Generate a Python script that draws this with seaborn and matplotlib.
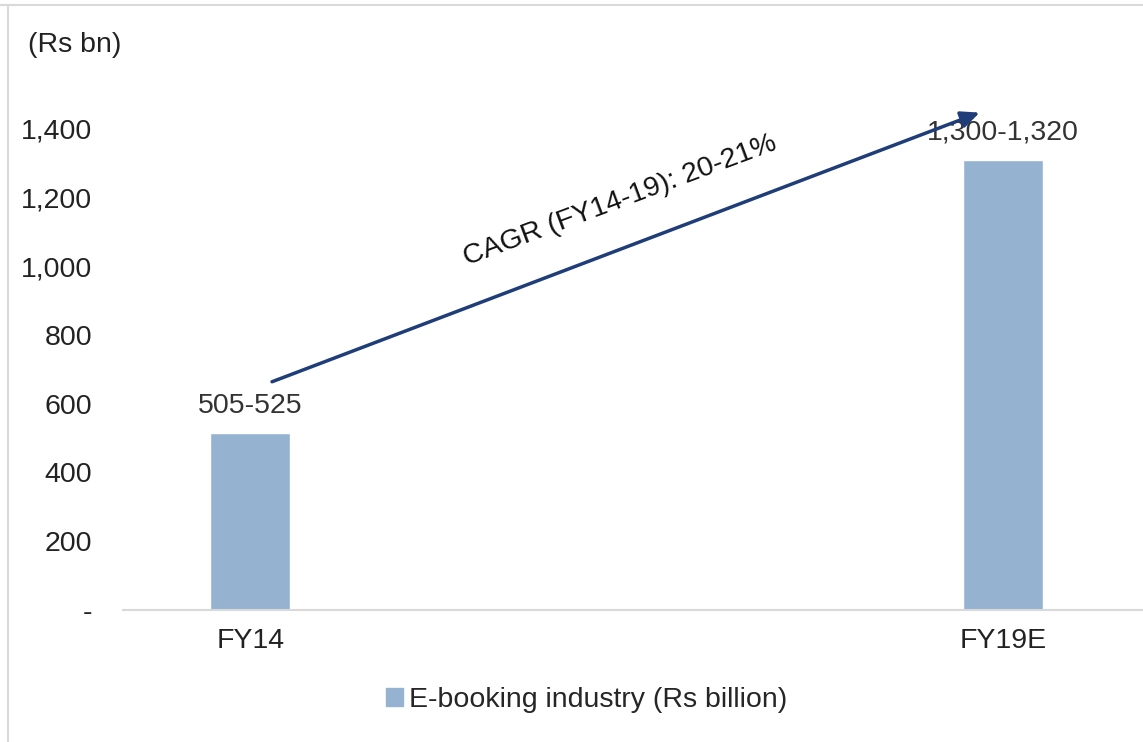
import matplotlib
matplotlib.use("Agg")
import matplotlib.pyplot as plt
from matplotlib.lines import Line2D
import pandas as pd
import seaborn as sns

# values
years = ["FY14", "FY19E"]
market_size = [515, 1310]          # midpoint of the quoted range, Rs bn
range_labels = ["505-525", "1,300-1,320"]
series_name = "E-booking industry (Rs billion)"
cagr_text = "CAGR (FY14-19): 20-21%"
yticks = [0, 200, 400, 600, 800, 1000, 1200, 1400]
ytick_labels = ["-", "200", "400", "600", "800", "1,000", "1,200", "1,400"]

bar_color = "#95b3d0"
arrow_color = "#1f3d78"
fs = 20.5

sns.set_style("white")
plt.rcParams["font.family"] = ["Liberation Sans", "DejaVu Sans"]

df = pd.DataFrame({"year": years, "size": market_size, "series": series_name})

fig = plt.figure(figsize=(11.43, 7.42), dpi=100)
# plot area in pixels: x 123..1143, y 60..610 (of 742)
ax = fig.add_axes([123 / 1143, 1 - 610 / 742, 1020 / 1143, 550 / 742])

sns.barplot(data=df, x="year", y="size", hue="series", palette=[bar_color],
            saturation=1, width=0.106, ax=ax, legend=False)

ax.set_xlim(-0.169, 1.186)
ax.set_ylim(0, 1600)
ax.set_yticks(yticks)
ax.set_yticklabels(ytick_labels)
ax.set_xlabel("")
ax.set_ylabel("")
ax.tick_params(axis="y", labelsize=fs, pad=22, length=0, colors="#222222")
ax.tick_params(axis="x", labelsize=fs, pad=13, length=0, colors="#222222")

sns.despine(ax=ax, left=True, top=True, right=True)
ax.spines["bottom"].set_color("#d9d9d9")
ax.spines["bottom"].set_linewidth(1.5)

# range labels above bars
for i, (v, txt) in enumerate(zip(market_size, range_labels)):
    ax.text(i, v + 40, txt, ha="center", va="bottom", fontsize=fs, color="#333333")

# CAGR arrow
ax.annotate("", xy=(0.969, 1447), xytext=(0.029, 664),
            arrowprops=dict(arrowstyle="-|>,head_length=1.1,head_width=0.5",
                            color=arrow_color, lw=2.5, shrinkA=0, shrinkB=0))
ax.text(0.491, 1190, cagr_text, rotation=20.5, rotation_mode="anchor",
        ha="center", va="center", fontsize=fs, color="#111111")

# unit label
fig.text(28 / 1143, 1 - 45 / 742, "(Rs bn)", fontsize=fs, va="center", color="#222222")

# legend
handle = plt.Rectangle((0, 0), 1, 1, color=bar_color)
fig.legend([handle], [series_name], loc="center", bbox_to_anchor=(0.513, 1 - 700 / 742),
           frameon=False, fontsize=fs, handlelength=0.6, handleheight=0.6,
           handletextpad=0.2)

# faint frame of the original picture
fig.add_artist(Line2D([0, 1], [1 - 5 / 742, 1 - 5 / 742], color="#d9d9d9", lw=1.5))
fig.add_artist(Line2D([8 / 1143, 8 / 1143], [0, 1 - 5 / 742], color="#d9d9d9", lw=1.5))

fig.savefig("out.png", dpi=100)
plt.close(fig)
